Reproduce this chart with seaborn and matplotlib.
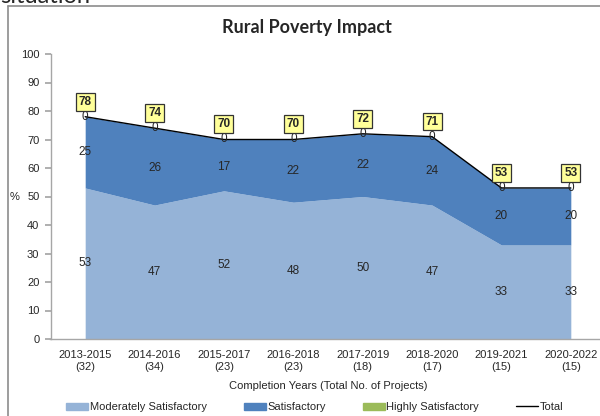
import matplotlib
matplotlib.use("Agg")
import matplotlib.pyplot as plt
import numpy as np
import pandas as pd
import seaborn as sns
from matplotlib.lines import Line2D
from matplotlib.patches import Patch

# data
periodos = ["2013-2015\n(32)", "2014-2016\n(34)", "2015-2017\n(23)", "2016-2018\n(23)",
            "2017-2019\n(18)", "2018-2020\n(17)", "2019-2021\n(15)", "2020-2022\n(15)"]
moderado = [53, 47, 52, 48, 50, 47, 33, 33]
satisfactorio = [25, 26, 17, 22, 22, 24, 20, 20]
muy_satisfactorio = [0, 0, 0, 0, 0, 0, 0, 0]
total = [78, 74, 70, 70, 72, 71, 53, 53]

C_MOD = "#95B3D7"
C_SAT = "#4F81BD"
C_HIGH = "#9BBB59"
GRIS = "#A6A6A6"

sns.set_theme(style="white")
plt.rcParams["font.family"] = ["Liberation Sans", "DejaVu Sans"]

fig = plt.figure(figsize=(6, 4.16), dpi=100)
ax = fig.add_axes([50.5 / 600, 1 - 339 / 416, 555 / 600, (339 - 54) / 416])

x = np.arange(len(periodos))
# las bandas llegan hasta el total (los valores publicados están redondeados)
ax.fill_between(x, 0, moderado, color=C_MOD, lw=0)
ax.fill_between(x, moderado, total, color=C_SAT, lw=0)

df = pd.DataFrame({"x": x, "total": total})
sns.lineplot(data=df, x="x", y="total", color="black", linewidth=1, ax=ax)

# etiquetas de datos
for i in range(len(x)):
    ax.text(x[i], moderado[i] / 2, str(moderado[i]), ha="center", va="center", fontsize=8.5)
    ax.text(x[i], moderado[i] + satisfactorio[i] / 2, str(satisfactorio[i]),
            ha="center", va="center", fontsize=8.5)
    ax.text(x[i], total[i], str(muy_satisfactorio[i]), ha="center", va="center", fontsize=8.5)
    ax.text(x[i], total[i] + 5.3, str(total[i]), ha="center", va="center", fontsize=8.5,
            fontweight="bold",
            bbox=dict(boxstyle="square,pad=0.25", fc="#FFFF99", ec="#333333", lw=0.9))

ax.set_xlim(-0.5, len(x) - 0.5)
ax.set_ylim(0, 100)
ax.set_yticks(range(0, 101, 10))
ax.set_xticks(x)
ax.set_xticklabels(periodos, fontsize=8)
ax.set_xticks(np.arange(-0.5, len(x), 1), minor=True)
ax.tick_params(axis="x", which="major", length=0, pad=8)
ax.tick_params(axis="x", which="minor", length=4, color=GRIS, direction="out")
ax.tick_params(axis="y", length=4, color=GRIS, direction="out", labelsize=8, pad=4, left=True)
for s in ["top", "right"]:
    ax.spines[s].set_visible(False)
for s in ["left", "bottom"]:
    ax.spines[s].set_color(GRIS)
    ax.spines[s].set_linewidth(1)

ax.set_xlabel("Completion Years (Total No. of Projects)", fontsize=8, labelpad=7)
ax.set_ylabel("")
fig.text(15 / 600, 1 - 197 / 416, "%", fontsize=8, ha="center", va="center")

fig.text(307 / 600, 1 - 28 / 416, "Rural Poverty Impact", fontsize=13, fontweight="bold",
         ha="center", va="center", family=["Lato", "DejaVu Sans"])

handles = [Patch(color=C_MOD), Patch(color=C_SAT), Patch(color=C_HIGH),
           Line2D([0], [0], color="black", lw=1)]
labels = ["Moderately Satisfactory", "Satisfactory", "Highly Satisfactory", "Total"]
fig.legend(handles, labels, loc="center left", bbox_to_anchor=(66 / 600, 1 - 407 / 416),
           ncol=4, frameon=False, fontsize=8, handlelength=2, handleheight=0.6,
           handletextpad=0.15, columnspacing=3.3, borderpad=0, borderaxespad=0)

# marco de la página y texto cortado de arriba
fig.add_artist(Line2D([8 / 600, 1], [1 - 6 / 416, 1 - 6 / 416], color="#8C8C8C", lw=1.2))
fig.add_artist(Line2D([8 / 600, 8 / 600], [0, 1 - 6 / 416], color="#8C8C8C", lw=1.2))
fig.text(0.0, 1 - 3 / 416, "situation", fontsize=17, ha="left", va="baseline",
         family=["Lato", "DejaVu Sans"])

fig.savefig("out.png", dpi=100)
